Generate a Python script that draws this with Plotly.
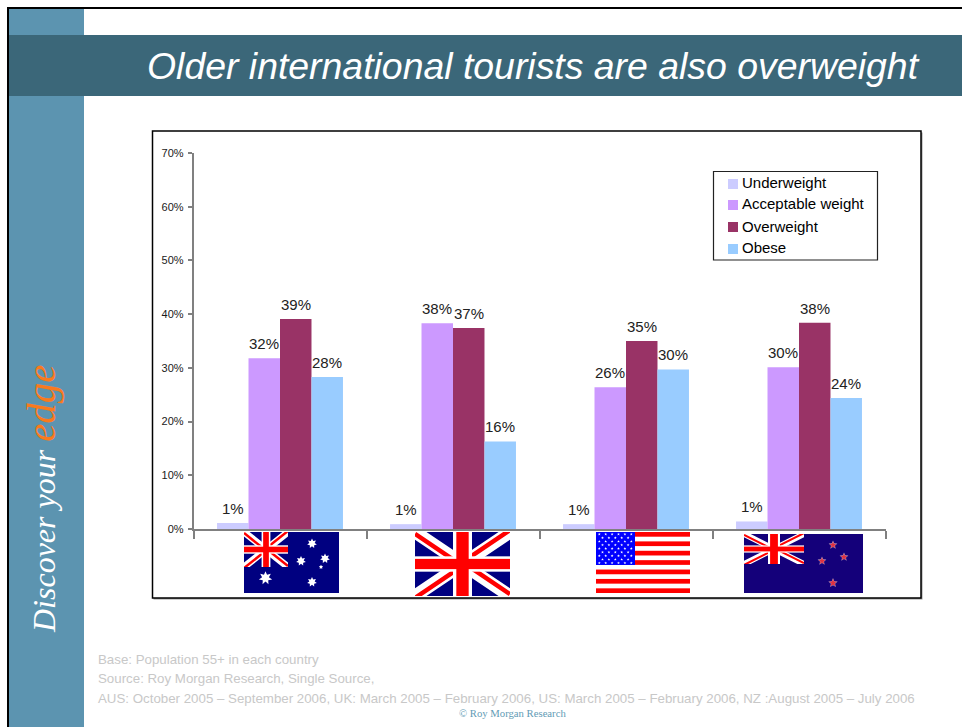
import base64
import math
import plotly.graph_objects as go

WIDTH, HEIGHT = 962, 727

countries = ["Australia", "United Kingdom", "United States", "New Zealand"]
underweight = [1.1, 0.9, 0.9, 1.4]
acceptable = [31.8, 38.3, 26.4, 30.1]
overweight = [39.1, 37.4, 35.0, 38.4]
obese = [28.3, 16.3, 29.7, 24.4]

series_names = ["Underweight", "Acceptable weight", "Overweight", "Obese"]
series_values = [underweight, acceptable, overweight, obese]
series_colors = ["#CCCCFF", "#CC99FF", "#993366", "#99CCFF"]

y_ticks = [0, 10, 20, 30, 40, 50, 60, 70]

title_text = "Older international tourists are also overweight"
footnotes = [
    "Base: Population 55+ in each country",
    "Source: Roy Morgan Research, Single Source,",
    "AUS: October 2005 – September 2006, UK: March 2005 – February 2006, "
    "US: March 2005 – February 2006, NZ :August 2005 – July 2006",
]
copyright_text = "© Roy Morgan Research"

PLOT_LEFT, PLOT_RIGHT = 193.5, 885.5
PLOT_TOP, PLOT_BOTTOM = 153, 529
BAR_GAP = 0.272


def px(x):
    return x / WIDTH


def py(y):
    return 1 - y / HEIGHT


def rect(x0, y0, x1, y1, fill, line=None, width=0, layer="below"):
    return dict(
        type="rect", xref="paper", yref="paper",
        x0=px(x0), x1=px(x1), y0=py(y0), y1=py(y1),
        fillcolor=fill, layer=layer,
        line=dict(color=line or fill, width=width),
    )


def star(cx, cy, outer, inner, points, fill):
    coords = []
    for i in range(points * 2):
        r = outer if i % 2 == 0 else inner
        a = -math.pi / 2 + i * math.pi / points
        coords.append(f"{cx + r * math.cos(a):.2f},{cy + r * math.sin(a):.2f}")
    return f'<polygon points="{" ".join(coords)}" fill="{fill}"/>'


def union_jack(w, h, navy):
    # The red diagonals sit off-centre in each quadrant, as on the real flag
    d = h * 0.03
    cx, cy = w / 2, h / 2
    red_diagonals = (
        f"M0,{d}L{cx},{cy + d}"
        f"M{cx},{cy - d}L{w},{-d}"
        f"M{cx},{cy - d}L{w},{h - d}"
        f"M{cx},{cy + d}L0,{h + d}"
    )
    return (
        f'<rect width="{w}" height="{h}" fill="{navy}"/>'
        f'<path d="M0,0L{w},{h}M{w},0L0,{h}" stroke="#fff" stroke-width="{h * 0.2}"/>'
        f'<path d="{red_diagonals}" stroke="#f00" stroke-width="{h * 0.07}"/>'
        f'<rect x="{w * 0.4}" width="{w * 0.2}" height="{h}" fill="#fff"/>'
        f'<rect y="{h * 0.38}" width="{w}" height="{h * 0.24}" fill="#fff"/>'
        f'<rect x="{w * 0.435}" width="{w * 0.13}" height="{h}" fill="#f00"/>'
        f'<rect y="{h * 0.42}" width="{w}" height="{h * 0.16}" fill="#f00"/>'
    )


def svg_uri(w, h, body):
    svg = f'<svg xmlns="http://www.w3.org/2000/svg" width="{w}" height="{h}" viewBox="0 0 {w} {h}">{body}</svg>'
    return "data:image/svg+xml;base64," + base64.b64encode(svg.encode()).decode()


def australia_flag():
    body = '<rect width="95" height="61" fill="#000080"/>'
    body += f'<svg width="44" height="35" viewBox="0 0 44 35">{union_jack(44, 35, "#000080")}</svg>'
    body += star(21.5, 46, 6.8, 3.5, 7, "#fff")
    for cx, cy, r in [(68, 11.5, 5), (57, 29, 5), (81, 26.5, 5), (68, 50, 5)]:
        body += star(cx, cy, r, r * 0.55, 7, "#fff")
    body += star(77, 35, 2.2, 1.2, 5, "#fff")
    return svg_uri(95, 61, body)


def uk_flag():
    return svg_uri(95, 64, union_jack(95, 64, "#000080"))


def us_flag():
    body = '<rect width="94" height="61" fill="#fff"/>'
    for i in range(7):
        body += f'<rect y="{i * 9.39:.2f}" width="94" height="4.7" fill="#f00"/>'
    body += '<rect width="39" height="33" fill="#00f"/>'
    for row in range(9):
        count = 6 if row % 2 == 0 else 5
        for col in range(count):
            body += star(3.3 + col * 6.4 + (0 if row % 2 == 0 else 3.2), 2.2 + row * 3.6, 1.5, 0.6, 5, "#fff")
    return svg_uri(94, 61, body)


def nz_flag():
    body = '<rect width="119" height="59" fill="#14007A"/>'
    body += f'<svg width="60" height="30" viewBox="0 0 60 30">{union_jack(60, 30, "#14007A")}</svg>'
    for cx, cy, r in [(89, 11, 3.6), (100, 23, 3.6), (78, 27, 3.6), (89, 49, 3.9)]:
        body += star(cx, cy, r + 1.0, (r + 1.0) * 0.45, 5, "#B89CC0")
        body += star(cx, cy, r, r * 0.45, 5, "#E03040")
    return svg_uri(119, 59, body)


flags = [
    (australia_flag(), 244, 532, 95, 61),
    (uk_flag(), 415, 532, 95, 64),
    (us_flag(), 596, 532, 94, 61),
    (nz_flag(), 744, 534, 119, 59),
]

fig = go.Figure()
for name, values, color in zip(series_names, series_values, series_colors):
    fig.add_trace(go.Bar(
        x=countries, y=values, name=name,
        marker=dict(color=color, line=dict(width=0)),
        showlegend=False,
    ))

shapes = [
    # Slide furniture
    rect(7, 7, 962, 9, "#000000"),
    rect(7, 7, 9, 727, "#000000"),
    rect(9, 9, 84, 727, "#5C94B0"),
    rect(9, 35, 962, 96, "#3B6779"),
    # Chart frame with its soft shadow
    rect(153.5, 132.5, 922.5, 599.5, "#999999"),
    rect(152.5, 131, 921, 598, "#FFFFFF", "#000000", 1.5),
    # Legend box
    rect(713.5, 171.5, 877.5, 260, "#FFFFFF", "#222222", 1.2),
]

annotations = []

# Value labels sit a little further above the bars than Plotly's own outside text
bar_width = (PLOT_RIGHT - PLOT_LEFT) / len(countries) * (1 - BAR_GAP) / len(series_names)
for s, values in enumerate(series_values):
    for country, value in zip(countries, values):
        annotations.append(dict(
            text=f"{value:.0f}%", x=country, y=value, xref="x", yref="y",
            xshift=(s - (len(series_names) - 1) / 2) * bar_width, yshift=4,
            xanchor="center", yanchor="bottom", showarrow=False,
            font=dict(family="Liberation Sans", size=15, color="#222222"),
        ))

legend_text_rows = [183, 203, 227, 247]
legend_swatch_rows = [184, 205, 227, 249]
for name, color, text_y, swatch_y in zip(series_names, series_colors, legend_text_rows, legend_swatch_rows):
    shapes.append(rect(728, swatch_y - 5, 738, swatch_y + 5, color))
    annotations.append(dict(
        text=name, xref="paper", yref="paper", x=px(740), y=py(text_y),
        xanchor="left", yanchor="middle", showarrow=False,
        font=dict(family="Liberation Sans", size=15, color="#000000"),
    ))

annotations.append(dict(
    text=f"<i>{title_text}</i>", xref="paper", yref="paper", x=px(921.5), y=py(66),
    xanchor="right", yanchor="middle", showarrow=False,
    font=dict(family="Liberation Sans", size=37.4, color="#FFFFFF"),
))
annotations.append(dict(
    text='<i>Discover your <span style="color:#F97A1E;font-size:41px">edge</span></i>',
    xref="paper", yref="paper", x=px(41), y=py(499),
    xanchor="center", yanchor="middle", textangle=-90, showarrow=False,
    font=dict(family="Liberation Serif", size=32, color="#FFFFFF"),
))
for text, y in zip(footnotes, [659, 678, 698]):
    annotations.append(dict(
        text=text, xref="paper", yref="paper", x=px(96), y=py(y),
        xanchor="left", yanchor="middle", showarrow=False,
        font=dict(family="Liberation Sans", size=13.3, color="#C8C8C8"),
    ))
annotations.append(dict(
    text=copyright_text, xref="paper", yref="paper", x=px(512), y=py(713),
    xanchor="center", yanchor="middle", showarrow=False,
    font=dict(family="Liberation Serif", size=10.7, color="#5F9BB5"),
))

images = [
    dict(source=src, xref="paper", yref="paper", x=px(x), y=py(y),
         sizex=w / WIDTH, sizey=h / HEIGHT, xanchor="left", yanchor="top",
         sizing="stretch", layer="above")
    for src, x, y, w, h in flags
]

fig.update_layout(
    template="none",
    width=WIDTH, height=HEIGHT, autosize=False,
    margin=dict(l=0, r=0, t=0, b=0),
    paper_bgcolor="#FFFFFF", plot_bgcolor="rgba(0,0,0,0)",
    barmode="group", bargap=BAR_GAP, bargroupgap=0,
    showlegend=False,
    shapes=shapes, annotations=annotations, images=images,
    xaxis=dict(
        automargin=False,
        domain=[px(PLOT_LEFT), px(PLOT_RIGHT)], range=[-0.5, 3.5], type="category",
        categoryorder="array", categoryarray=countries,
        showgrid=False, zeroline=False, showticklabels=False,
        showline=True, linecolor="#808080", linewidth=1.5,
        ticks="outside", tickson="boundaries", ticklen=8,
        tickcolor="#808080", tickwidth=1.5,
    ),
    yaxis=dict(
        automargin=False,
        domain=[py(PLOT_BOTTOM), py(PLOT_TOP)], range=[0, 70],
        tickvals=y_ticks, ticktext=[f"{t}%" for t in y_ticks],
        showgrid=False, zeroline=False,
        showline=True, linecolor="#808080", linewidth=1.5,
        ticks="outside", ticklen=4, tickcolor="#808080", tickwidth=1.5,
        ticklabelstandoff=2,
        tickfont=dict(family="Liberation Sans", size=11, color="#1A1A1A"),
    ),
)

fig.write_html("out.html")
